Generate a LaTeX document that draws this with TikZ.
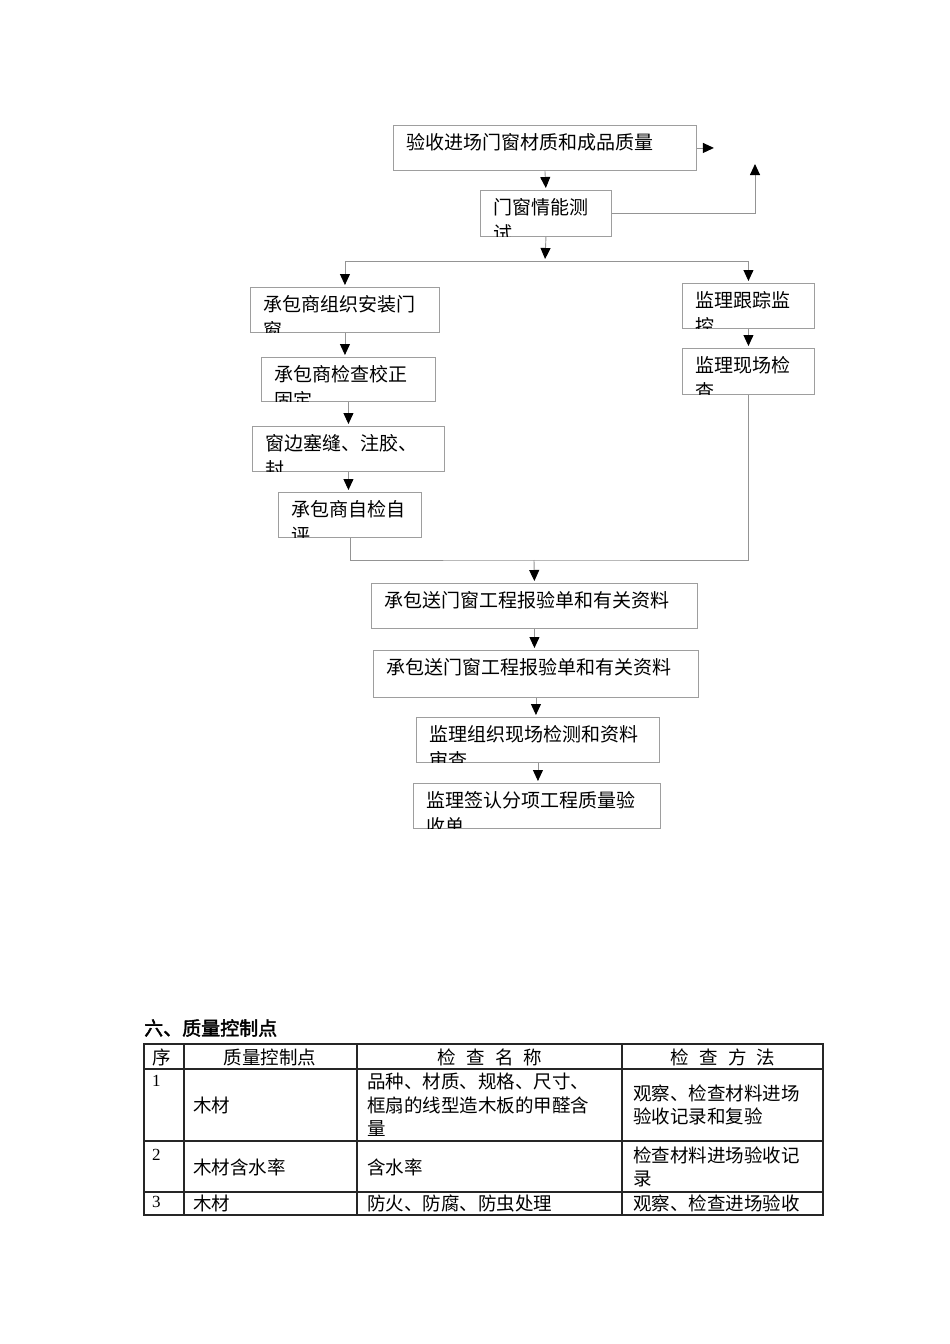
\documentclass[tikz,border=0pt]{standalone}
\usepackage{fontspec}
\setmainfont{Noto Sans CJK SC}
\newfontfamily\digitfont{Liberation Serif}
\newfontfamily\titlefont[FakeBold=2]{Noto Sans CJK SC}
\usetikzlibrary{arrows.meta}

\definecolor{boxgray}{gray}{0.62}
\definecolor{linkgray}{gray}{0.58}

\tikzset{
    flowbox/.style={draw=boxgray, line width=0.9pt, inner sep=0pt, anchor=north west},
    boxtext/.style={font=\fontsize{19}{26}\selectfont, inner sep=0pt, align=left, anchor=base west},
    link/.style={draw=linkgray, line width=0.9pt},
    flowarrow/.style={link, shorten >=2pt, -{Triangle[black, width=10pt, length=11pt]}},
    tablerule/.style={draw=black!85, line width=1.2pt},
    cell/.style={font=\fontsize{18.5}{23.5}\selectfont, inner sep=0pt, align=left},
    digit/.style={font=\digitfont\fontsize{17}{20}\selectfont, inner sep=0pt},
}

% name, left, top, width, height, text (clipped by the box)
\newcommand{\flowbox}[6]{%
    \node[flowbox, minimum width=#4pt, minimum height=#5pt] (#1) at (#2,#3) {};
    \begin{scope}
        \clip (#1.south west) rectangle (#1.north east);
        \node[boxtext, text width=#4pt] (#1-t) at ([shift={(13,24)}]#1.north west) {#6};
    \end{scope}
}
\newcommand{\gap}{\hspace{0.55em}}

\begin{document}
\begin{tikzpicture}[x=1pt, y=-1pt]
    \useasboundingbox (0,0) rectangle (950,1344);

    \flowbox{box1}{393}{125}{303}{45}{验收进场门窗材质和成品质量}
    \flowbox{box2}{480}{190}{131}{46}{门窗情能测\\试}
    \flowbox{lbox1}{250}{287}{189}{45}{承包商组织安装门\\窗}
    \flowbox{lbox2}{261}{357}{174}{44}{承包商检查校正\\固定}
    \flowbox{lbox3}{252}{426}{192}{45}{窗边塞缝、注胶、\\封}
    \flowbox{lbox4}{278}{492}{143}{45}{承包商自检自\\评}
    \flowbox{rbox1}{682}{283}{132}{45}{监理跟踪监\\控}
    \flowbox{rbox2}{682}{348}{132}{46}{监理现场检\\查}
    \flowbox{box5}{371}{583}{326}{45}{承包送门窗工程报验单和有关资料}
    \flowbox{box6}{373}{650}{325}{47}{承包送门窗工程报验单和有关资料}
    \flowbox{box7}{416}{717}{243}{45}{监理组织现场检测和资料\\审查}
    \flowbox{box8}{413}{783}{247}{45}{监理签认分项工程质量验\\收单}

    \coordinate (outtip) at ([xshift=19]box1.east);
    \coordinate (uptip) at (755,162);
    \coordinate (split) at (545,261);
    \coordinate (merge) at (534,560);

    \draw[flowarrow] (box1.south) -- (box2.north);
    \draw[flowarrow] (box1.east) -- (outtip);
    \draw[flowarrow] (box2.east) -| (uptip);
    \draw[flowarrow] (box2.south) -- (split);
    \draw[link] (lbox1.north |- split) -- (rbox1.north |- split);
    \draw[flowarrow] (lbox1.north |- split) -- (lbox1.north);
    \draw[flowarrow] (rbox1.north |- split) -- (rbox1.north);
    \foreach \a/\b in {lbox1/lbox2, lbox2/lbox3, lbox3/lbox4, rbox1/rbox2,
                       box5/box6, box6/box7, box7/box8}
        \draw[flowarrow] (\a.south) -- (\a.south |- \b.north);
    \draw[link] (lbox4.south) |- (merge) -| (rbox2.south);
    \draw[flowarrow] (merge) -- (box5.north);

    % quality control table
    \node[anchor=west, inner sep=0pt, font=\titlefont\fontsize{19}{22}\selectfont] (title) at (144,1028) {六、质量控制点};
    \draw[tablerule] (144,1044) rectangle (823,1215);
    \foreach \x in {184,357,622}
        \draw[tablerule] (\x,1044) -- (\x,1215);
    \foreach \y in {1069,1141,1192}
        \draw[tablerule] (144,\y) -- (823,\y);

    \node[cell] (h0) at (162,1057) {序};
    \node[cell] (h1) at (270,1057) {质量控制点};
    \node[cell] (h2) at (490,1057) {检\gap 查\gap 名\gap 称};
    \node[cell] (h3) at (723,1057) {检\gap 查\gap 方\gap 法};

    \node[digit, anchor=north west] (n1) at (152,1075) {1};
    \node[cell, anchor=west] (c11) at (193,1105) {木材};
    \node[cell, anchor=west, text width=250pt] (c12) at (367,1105) {品种、材质、规格、尺寸、\\框扇的线型造木板的甲醛含\\量};
    \node[cell, anchor=west, text width=185pt] (c13) at (633,1105) {观察、检查材料进场\\验收记录和复验};

    \node[digit, anchor=north west] (n2) at (152,1149) {2};
    \node[cell, anchor=west] (c21) at (193,1167) {木材含水率};
    \node[cell, anchor=west] (c22) at (367,1167) {含水率};
    \node[cell, anchor=west, text width=185pt] (c23) at (633,1167) {检查材料进场验收记\\录};

    \node[digit, anchor=west] (n3) at (152,1202) {3};
    \node[cell, anchor=west] (c31) at (193,1203) {木材};
    \node[cell, anchor=west] (c32) at (367,1203) {防火、防腐、防虫处理};
    \node[cell, anchor=west] (c33) at (633,1203) {观察、检查进场验收};
\end{tikzpicture}
\end{document}
